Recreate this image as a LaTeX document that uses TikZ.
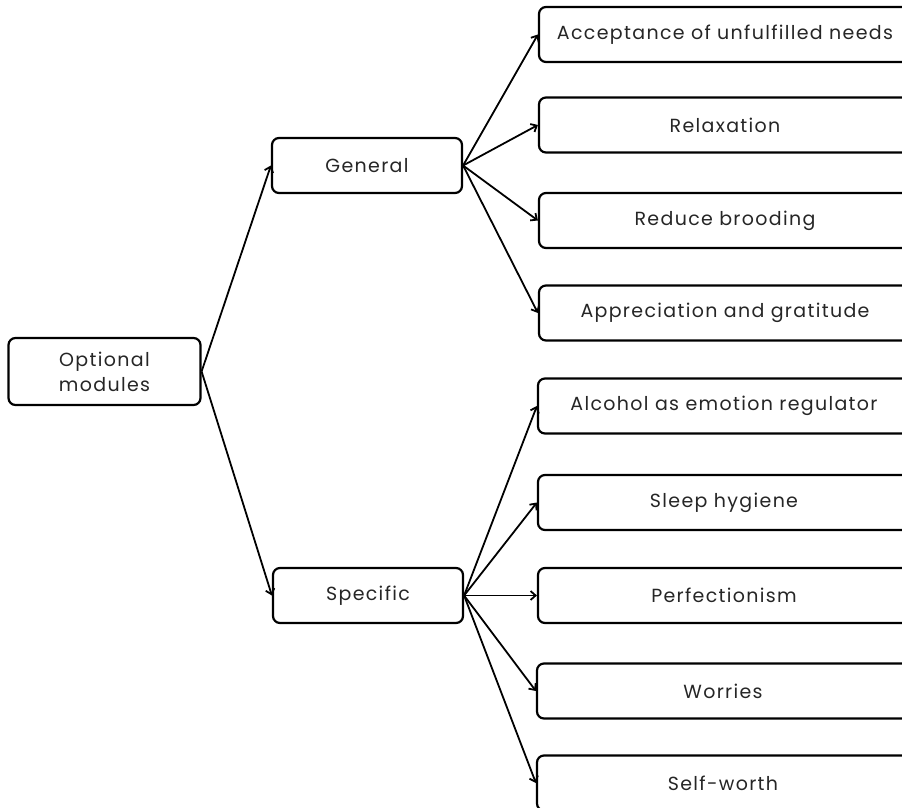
\documentclass[tikz,border=0pt]{standalone}
\usepackage{fontspec}
\setmainfont{Poppins}[LetterSpace=7]
\usetikzlibrary{arrows.meta}
\tikzset{
  box/.style={draw=black, line width=2.2pt, rounded corners=7pt, fill=white, inner sep=0pt, align=center, font=\fontsize{19}{25}\selectfont, text=black!85},
  leftbox/.style={box, minimum width=192pt, minimum height=67pt},
  midbox/.style={box, minimum width=190pt, minimum height=55pt},
  rbox/.style={box, minimum width=372pt, minimum height=55pt},
  conn/.style={draw=black, line width=1.8pt, -{Straight Barb[length=5pt,width=9pt,line width=1.8pt]}}
}
\begin{document}
\begin{tikzpicture}[x=1pt,y=1pt]
\useasboundingbox (0,0) rectangle (902,-808);
\clip (0,0) rectangle (902,-808);
\node[leftbox] (opt) at (104.5,-371.5) {Optional\\modules};
\node[midbox] (gen) at (367,-165.5) {General};
\node[midbox] (spec) at (368,-595.5) {Specific};
\node[rbox] (r1) at (725,-34.5) {Acceptance of unfulfilled needs};
\node[rbox] (r2) at (725,-125) {Relaxation};
\node[rbox] (r3) at (725,-220.5) {Reduce brooding};
\node[rbox] (r4) at (725,-313) {Appreciation and gratitude};
\node[rbox] (r5) at (724,-406) {Alcohol as emotion regulator};
\node[rbox] (r6) at (724,-502.5) {Sleep hygiene};
\node[rbox] (r7) at (724,-595.5) {Perfectionism};
\node[rbox] (r8) at (723,-691) {Worries};
\node[rbox] (r9) at (723,-783) {Self-worth};
\draw[conn] (opt.east) -- (gen.west);
\draw[conn] (opt.east) -- (spec.west);
\foreach \n in {r1,r2,r3,r4} \draw[conn] (gen.east) -- (\n.west);
\foreach \n in {r5,r6,r7,r8,r9} \draw[conn] (spec.east) -- (\n.west);
\end{tikzpicture}
\end{document}
